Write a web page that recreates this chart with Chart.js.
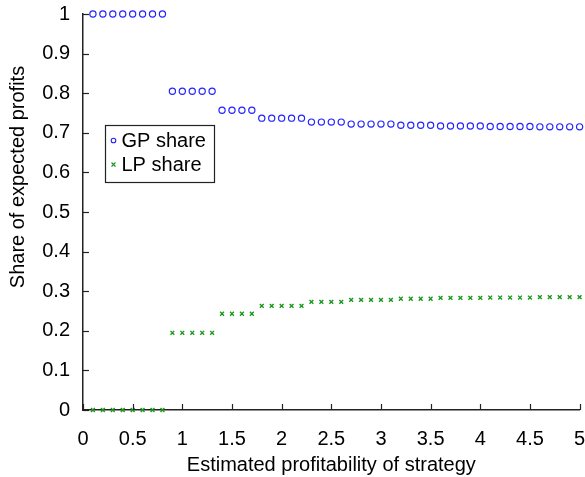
<!DOCTYPE html>
<html>
<head>
<meta charset="utf-8">
<script src="https://cdn.jsdelivr.net/npm/chart.js@4.4.1/dist/chart.umd.min.js"></script>
<style>
  html, body { margin: 0; padding: 0; background: #fff; }
  #wrap { width: 585px; height: 477px; }
</style>
</head>
<body>
<div id="wrap"><canvas id="c" width="585" height="477"></canvas></div>
<script>
const xValues = [0.1,0.2,0.3,0.4,0.5,0.6,0.7,0.8,0.9,1.0,
                 1.1,1.2,1.3,1.4,1.5,1.6,1.7,1.8,1.9,2.0,
                 2.1,2.2,2.3,2.4,2.5,2.6,2.7,2.8,2.9,3.0,
                 3.1,3.2,3.3,3.4,3.5,3.6,3.7,3.8,3.9,4.0,
                 4.1,4.2,4.3,4.4,4.5,4.6,4.7,4.8,4.9,5.0];
const gpShare = [1,1,1,1,1,1,1,1,
                 0.805,0.805,0.805,0.805,0.805,
                 0.757,0.757,0.757,0.757,
                 0.737,0.737,0.737,0.737,0.737,
                 0.727,0.727,0.727,0.727,
                 0.722,0.722,0.722,0.722,0.722,
                 0.719,0.719,0.719,0.719,
                 0.717,0.717,0.717,0.717,0.717,
                 0.716,0.716,0.716,0.716,0.716,
                 0.715,0.715,0.715,0.715,0.715];
const lpShare = [0,0,0,0,0,0,0,0,
                 0.195,0.195,0.195,0.195,0.195,
                 0.243,0.243,0.243,0.243,
                 0.263,0.263,0.263,0.263,0.263,
                 0.273,0.273,0.273,0.273,
                 0.278,0.278,0.278,0.278,0.278,
                 0.281,0.281,0.281,0.281,
                 0.283,0.283,0.283,0.283,0.283,
                 0.284,0.284,0.284,0.284,0.284,
                 0.285,0.285,0.285,0.285,0.285];
const seriesNames = ['GP share', 'LP share'];
const xTitle = 'Estimated profitability of strategy';
const yTitle = 'Share of expected profits';

const FONT = '"Liberation Sans", Arial, sans-serif';
const AXIS_COLOR = '#222';
const fmt = v => String(parseFloat(Number(v).toFixed(2)));

const inwardTicks = {
  id: 'inwardTicks',
  afterDatasetsDraw(chart) {
    const ctx = chart.ctx;
    const xs = chart.scales.x, ys = chart.scales.y;
    const area = chart.chartArea;
    ctx.save();
    ctx.strokeStyle = AXIS_COLOR;
    ctx.lineWidth = 1.2;
    ys.ticks.forEach(t => {
      const y = Math.round(ys.getPixelForValue(t.value)) + 0.5;
      ctx.beginPath(); ctx.moveTo(area.left, y); ctx.lineTo(area.left + 6, y); ctx.stroke();
    });
    xs.ticks.forEach(t => {
      const x = Math.round(xs.getPixelForValue(t.value)) + 0.5;
      ctx.beginPath(); ctx.moveTo(x, area.bottom); ctx.lineTo(x, area.bottom - 6); ctx.stroke();
    });
    ctx.restore();
  },
  afterDraw(chart) {
    const ctx = chart.ctx;
    ctx.save();
    ctx.fillStyle = '#000';
    ctx.font = '20px ' + FONT;
    ctx.textAlign = 'center';
    ctx.textBaseline = 'middle';
    ctx.translate(18, 177);
    ctx.rotate(-Math.PI / 2);
    ctx.fillText(yTitle, 0, 0);
    ctx.restore();

    ctx.save();
    const bx = 105.5, by = 125.5, bw = 109, bh = 57;
    ctx.fillStyle = '#fff';
    ctx.fillRect(bx, by, bw, bh);
    ctx.strokeStyle = '#222';
    ctx.lineWidth = 1.2;
    ctx.strokeRect(bx, by, bw, bh);
    ctx.font = '20px ' + FONT;
    ctx.textAlign = 'left';
    ctx.textBaseline = 'middle';
    chart.data.datasets.forEach((ds, i) => {
      const cy = by + 15 + i * 24;
      ctx.strokeStyle = ds.borderColor;
      ctx.lineWidth = 1.1;
      ctx.beginPath();
      if (ds.pointStyle === 'circle') {
        ctx.arc(bx + 8, cy, 2.3, 0, Math.PI * 2);
      } else {
        ctx.moveTo(bx + 6, cy - 2); ctx.lineTo(bx + 10, cy + 2);
        ctx.moveTo(bx + 10, cy - 2); ctx.lineTo(bx + 6, cy + 2);
      }
      ctx.stroke();
      ctx.fillStyle = '#000';
      ctx.fillText(ds.label, bx + 16, cy + 1);
    });
    ctx.restore();
  }
};

new Chart(document.getElementById('c'), {
  type: 'scatter',
  data: {
    datasets: [
      {
        label: seriesNames[0],
        data: xValues.map((x, i) => ({ x: x, y: gpShare[i] })),
        pointStyle: 'circle',
        pointRadius: 3.1,
        pointBorderWidth: 1.2,
        borderColor: '#2424ff',
        backgroundColor: 'rgba(0,0,0,0)',
        clip: false
      },
      {
        label: seriesNames[1],
        data: xValues.map((x, i) => ({ x: x, y: lpShare[i] })),
        pointStyle: 'crossRot',
        pointRadius: 2.7,
        pointBorderWidth: 1.4,
        borderColor: '#1a961a',
        backgroundColor: 'rgba(0,0,0,0)',
        clip: false
      }
    ]
  },
  options: {
    responsive: false,
    animation: false,
    layout: { padding: { top: 14, right: 5, left: 0, bottom: 0 } },
    plugins: {
      legend: { display: false },
      tooltip: { enabled: false }
    },
    scales: {
      x: {
        type: 'linear',
        min: 0, max: 5,
        grid: { display: false, drawTicks: false },
        border: { display: true, color: AXIS_COLOR, width: 1.5 },
        ticks: { stepSize: 0.5, padding: 17, color: '#000', font: { family: FONT, size: 20 }, maxRotation: 0, callback: fmt },
        title: { display: true, text: xTitle, color: '#000', font: { family: FONT, size: 20 }, padding: { top: 0, bottom: 0 } },
        afterFit(scale) { scale.height = 67; scale.paddingLeft = 0; scale.paddingRight = 0; }
      },
      y: {
        type: 'linear',
        min: 0, max: 1,
        grid: { display: false, drawTicks: false },
        border: { display: true, color: AXIS_COLOR, width: 1.5 },
        ticks: { stepSize: 0.1, padding: 13, color: '#000', font: { family: FONT, size: 20 }, callback: fmt },
        afterFit(scale) { scale.width = 83; scale.paddingTop = 0; scale.paddingBottom = 0; }
      }
    }
  },
  plugins: [inwardTicks]
});
</script>
</body>
</html>
